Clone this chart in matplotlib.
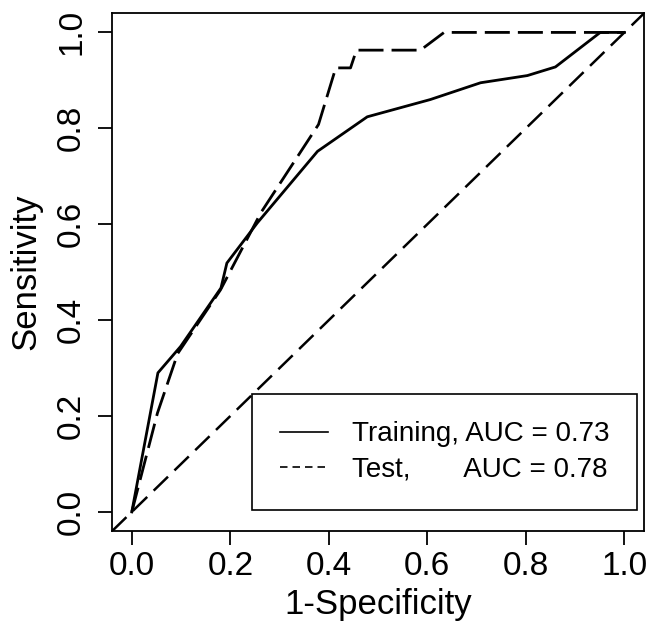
import matplotlib.pyplot as plt
from matplotlib.lines import Line2D

plt.rcParams['font.family'] = ['Liberation Sans', 'DejaVu Sans']

# ROC points (1-specificity, sensitivity)
train_fpr = [0, 0.053, 0.099, 0.181, 0.193, 0.255, 0.377, 0.478, 0.606, 0.708, 0.803, 0.86, 0.951, 1.0]
train_tpr = [0, 0.29, 0.345, 0.467, 0.519, 0.603, 0.752, 0.824, 0.86, 0.895, 0.91, 0.928, 1.0, 1.0]

test_fpr = [0, 0.052, 0.093, 0.18, 0.262, 0.379, 0.414, 0.444, 0.456, 0.586, 0.634, 1.0]
test_tpr = [0, 0.206, 0.33, 0.463, 0.624, 0.808, 0.926, 0.926, 0.963, 0.963, 1.0, 1.0]

ticks = [0.0, 0.2, 0.4, 0.6, 0.8, 1.0]
tick_labels = ['0.0', '0.2', '0.4', '0.6', '0.8', '1.0']
labels = ['Training, AUC = 0.73', 'Test,       AUC = 0.78']

fig = plt.figure(figsize=(6.48, 6.30), dpi=100)
ax = fig.add_axes([0.173, 0.157, 0.821, 0.822])

ax.plot(train_fpr, train_tpr, color='black', lw=2)
ax.plot(test_fpr, test_tpr, color='black', lw=2, linestyle=(0, (9, 2.9)))
ax.axline((0, 0), slope=1, color='black', lw=1.8, linestyle=(0, (8, 3.6)))

ax.set_xlim(-0.04, 1.04)
ax.set_ylim(-0.04, 1.04)
ax.set_xticks(ticks)
ax.set_xticklabels(tick_labels)
ax.set_yticks(ticks)
ax.set_yticklabels(tick_labels, rotation=90, va='center')
ax.tick_params(direction='out', length=10, width=1.3, labelsize=24)
ax.tick_params(axis='x', pad=4.5)
ax.tick_params(axis='y', pad=8)
for s in ax.spines.values():
    s.set_linewidth(1.3)

ax.set_xlabel('1-Specificity', fontsize=25, labelpad=4)
ax.set_ylabel('Sensitivity', fontsize=25, labelpad=10)

handles = [Line2D([], [], color='black', lw=1.2),
           Line2D([], [], color='black', lw=1.2, linestyle=(0, (4.5, 3)))]
leg = ax.legend(handles, labels, loc='lower right', bbox_to_anchor=(0.987, 0.04),
                fontsize=20, frameon=True, fancybox=False, framealpha=1,
                edgecolor='black', borderpad=1.0, labelspacing=0.33,
                handlelength=1.75, handletextpad=0.85, borderaxespad=0)
leg.get_frame().set_linewidth(1.2)

plt.savefig('out.png', dpi=100)
